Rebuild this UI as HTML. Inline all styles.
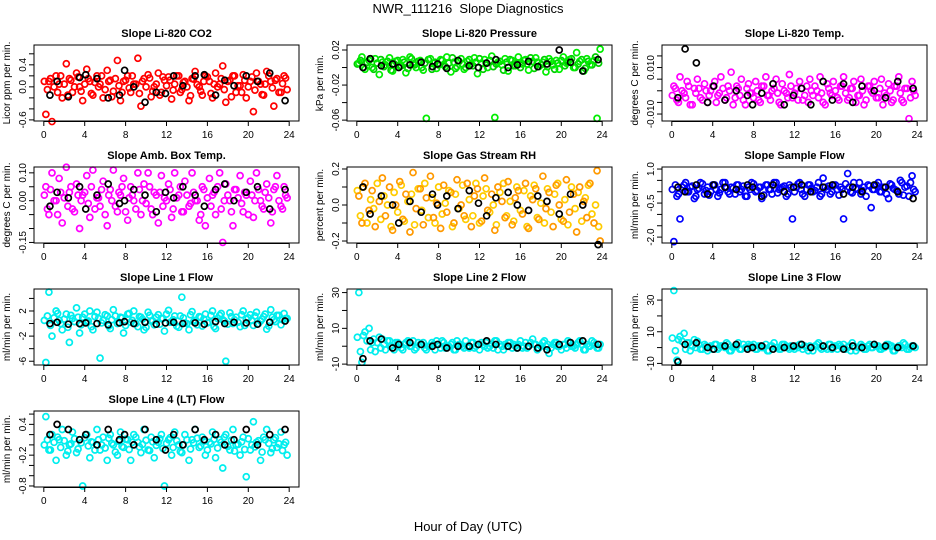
<!DOCTYPE html>
<html><head><meta charset="utf-8"><style>
html,body{margin:0;padding:0;background:#fff}
svg{display:block;font-family:"Liberation Sans",sans-serif}
</style></head><body>
<svg id="chart" width="936" height="540" viewBox="0 0 936 540">
<text x="468" y="13" text-anchor="middle" font-size="13">NWR_111216&#160; Slope Diagnostics</text>
<text x="468" y="531" text-anchor="middle" font-size="13">Hour of Day (UTC)</text>
</svg>
<script>
const hoursC=[0.2,0.5,0.8,1.2,1.5,1.8,2.2,2.5,2.8,3.2,3.5,3.8,4.2,4.5,4.8,5.2,5.5,5.8,6.2,6.5,6.8,7.2,7.5,7.8,8.2,8.5,8.8,9.2,9.5,9.8,10.2,10.5,10.8,11.2,11.5,11.8,12.2,12.5,12.8,13.2,13.5,13.8,14.2,14.5,14.8,15.2,15.5,15.8,16.2,16.5,16.8,17.2,17.5,17.8,18.2,18.5,18.8,19.2,19.5,19.8,20.2,20.5,20.8,21.2,21.5,21.8,22.2,22.5,22.8,23.2,23.5,23.8];
const hoursC2=[0.05,0.35,0.65,1.0,1.35,1.65,2.0,2.35,2.65,3.0,3.35,3.65,4.0,4.35,4.65,5.0,5.35,5.65,6.0,6.35,6.65,7.0,7.35,7.65,8.0,8.35,8.65,9.0,9.35,9.65,10.0,10.35,10.65,11.0,11.35,11.65,12.0,12.35,12.65,13.0,13.35,13.65,14.0,14.35,14.65,15.0,15.35,15.65,16.0,16.35,16.65,17.0,17.35,17.65,18.0,18.35,18.65,19.0,19.35,19.65,20.0,20.35,20.65,21.0,21.35,21.65,22.0,22.35,22.65,23.0,23.35,23.65];
const hoursK=[0.6,1.3,2.4,3.5,4.1,5.2,6.3,7.4,7.9,8.8,9.9,11.0,11.9,12.7,13.6,14.8,15.7,16.8,17.7,18.6,19.8,20.9,22.1,23.6];
const xTicks=[0,4,8,12,16,20,24];

const co2C=[-0.5,0.1,-0.63,0.2,0.05,-0.2,0.42,0.15,-0.1,0.25,0.0,-0.25,0.32,0.1,-0.15,0.2,0.05,-0.2,0.3,0.12,-0.08,0.48,-0.25,0.1,0.2,-0.1,0.05,0.52,-0.35,0.15,0.22,-0.18,0.0,0.25,-0.1,0.12,0.18,-0.22,0.05,0.2,-0.05,0.1,-0.25,0.15,0.28,0.0,-0.15,0.2,0.1,-0.2,0.25,0.05,0.38,-0.28,0.12,0.2,-0.1,0.02,0.22,-0.2,0.1,-0.45,0.25,0.05,-0.15,0.28,0.1,-0.35,0.15,-0.1,0.2,-0.05];
const co2B=[0.1,-0.05,0.15,0.0,-0.1,0.2,0.05,-0.15,0.12,0.0,0.18,-0.08,0.05,0.15,-0.12,0.08,0.0,0.2,-0.05,0.1,-0.18,0.15,0.02,-0.1,0.12,-0.02,0.2,0.05,-0.12,0.1,0.0,0.16,-0.08,0.05,-0.15,0.18,0.02,0.12,-0.06,0.2,-0.1,0.08,0.0,-0.16,0.14,0.04,-0.08,0.1,0.18,-0.12,0.05,0.0,0.15,-0.05,0.1,-0.18,0.2,0.02,-0.1,0.12,0.0,0.18,-0.06,0.1,-0.14,0.05,0.2,-0.02,0.12,-0.1,0.06,0.16];
const co2K=[-0.15,0.1,-0.18,0.17,0.22,0.15,-0.2,-0.15,0.3,0.0,-0.28,-0.1,-0.12,0.2,0.02,0.2,0.22,-0.15,0.12,0.02,0.2,0.1,0.25,-0.25];
const presC=[0.005,0.012,-0.002,0.008,0.0,0.01,-0.008,0.006,0.003,0.011,-0.004,0.007,0.002,0.009,-0.006,0.012,0.004,0.0,0.008,-0.003,-0.058,0.01,0.005,-0.001,0.009,0.003,0.012,-0.005,0.006,0.001,0.01,-0.002,0.007,0.004,0.011,-0.007,0.005,0.009,0.0,0.013,-0.057,0.006,0.003,0.01,-0.004,0.008,0.002,0.012,0.004,0.009,-0.003,0.007,0.011,0.001,0.006,-0.005,0.01,0.003,0.008,-0.002,0.012,0.005,0.009,0.0,0.017,0.007,-0.004,0.01,0.003,0.008,-0.058,0.021];
const presB=[0.004,0.008,0.0,0.006,0.01,-0.002,0.005,0.009,0.001,0.007,-0.003,0.004,0.008,0.002,0.006,-0.001,0.01,0.003,0.007,0.0,0.005,0.009,-0.002,0.006,0.003,0.008,0.001,0.005,0.011,-0.001,0.007,0.004,0.0,0.009,0.002,0.006,0.01,-0.002,0.005,0.008,0.001,0.004,0.007,-0.003,0.006,0.009,0.002,0.005,0.0,0.008,0.004,0.011,-0.001,0.006,0.003,0.009,0.001,0.007,-0.002,0.005,0.008,0.002,0.006,0.01,0.0,0.004,0.009,-0.001,0.007,0.003,0.012,0.005];
const presK=[0.0,0.01,0.002,0.004,0.0,0.003,0.006,0.001,0.004,-0.001,0.008,0.002,0.0,0.005,0.009,0.0,0.003,0.007,0.001,0.004,0.02,0.006,-0.004,0.009];
const tempC=[0.002,-0.004,0.006,-0.001,0.004,-0.006,0.001,0.005,-0.003,0.003,-0.005,0.0,0.004,-0.002,0.006,-0.004,0.002,0.008,-0.003,0.001,0.005,-0.006,0.003,-0.001,0.004,-0.004,0.002,0.006,-0.002,0.0,0.005,-0.005,0.003,-0.001,0.007,-0.003,0.001,0.004,-0.004,0.002,0.005,-0.002,0.0,0.006,-0.005,0.003,-0.001,0.004,-0.003,0.002,0.006,-0.004,0.001,0.004,-0.002,0.005,-0.006,0.002,0.0,0.004,-0.003,0.005,-0.001,0.003,-0.005,0.002,0.006,-0.004,0.001,-0.012,0.004,-0.002];
const tempB=[-0.002,0.001,-0.005,0.0,-0.003,0.002,-0.006,-0.001,0.001,-0.004,0.0,-0.002,0.002,-0.005,-0.001,0.001,-0.003,0.0,-0.006,0.002,-0.002,-0.004,0.001,-0.001,-0.003,0.0,-0.005,0.002,-0.002,-0.004,0.001,-0.001,-0.006,0.0,-0.003,0.002,-0.001,-0.004,0.001,-0.002,-0.005,0.0,0.002,-0.003,-0.001,-0.006,0.001,-0.002,0.0,-0.004,0.002,-0.001,-0.003,0.001,-0.005,-0.002,0.0,-0.004,0.002,-0.001,-0.003,0.001,-0.006,-0.002,0.0,-0.004,0.002,-0.001,-0.005,0.001,-0.003,0.0];
const tempK=[-0.003,0.018,0.012,-0.005,0.002,-0.004,0.0,-0.002,-0.006,-0.001,0.003,-0.006,-0.002,0.001,-0.006,0.004,-0.004,0.003,-0.005,0.002,0.0,-0.003,0.004,0.001];
const ambC=[0.05,-0.05,0.1,0.0,0.08,-0.08,0.12,0.03,-0.03,0.06,-0.1,0.02,0.09,-0.06,0.11,0.01,-0.02,0.07,-0.09,0.04,0.11,-0.04,0.02,0.08,-0.07,0.05,0.0,0.1,-0.05,0.06,0.1,-0.03,0.03,-0.08,0.09,0.01,0.06,-0.06,0.1,0.02,-0.04,0.07,-0.02,0.1,0.0,-0.07,0.05,-0.09,0.08,0.02,-0.05,0.1,-0.15,0.06,0.0,-0.09,0.04,0.09,-0.04,0.02,0.07,-0.06,0.1,0.0,-0.03,0.06,-0.08,0.04,0.09,-0.02,0.05,0.01];
const ambB=[0.02,-0.03,0.04,0.0,-0.05,0.03,0.01,-0.02,0.05,-0.04,0.02,0.0,0.03,-0.01,0.05,-0.03,0.01,0.04,-0.05,0.02,0.0,-0.02,0.03,0.05,-0.04,0.01,0.02,-0.03,0.04,0.0,-0.01,0.05,-0.05,0.02,0.03,-0.02,0.0,0.04,-0.03,0.01,0.05,-0.04,0.02,-0.01,0.03,0.0,-0.05,0.04,0.01,-0.02,0.03,0.05,-0.03,0.0,0.02,-0.04,0.04,0.01,-0.01,0.03,-0.05,0.02,0.0,0.04,-0.02,0.03,0.01,-0.04,0.05,0.0,-0.03,0.02];
const ambK=[-0.02,0.03,0.01,0.05,-0.03,0.02,0.06,-0.01,0.0,0.04,0.02,-0.04,0.03,0.01,0.05,0.02,-0.02,0.04,0.06,0.0,0.03,0.05,-0.03,0.04];
const rhC=[0.05,-0.1,0.12,-0.03,0.08,-0.12,0.02,0.15,-0.06,0.1,-0.14,0.0,0.13,-0.08,0.06,-0.15,0.18,-0.02,0.09,-0.11,0.04,0.16,-0.07,0.01,-0.13,0.11,-0.04,0.07,-0.1,0.14,0.0,-0.06,0.12,-0.12,0.05,0.09,-0.09,0.15,-0.03,0.06,-0.14,0.1,0.02,-0.07,0.13,-0.11,0.04,0.08,-0.05,0.12,-0.13,0.03,0.09,-0.08,0.16,-0.02,0.07,-0.12,0.11,0.0,-0.09,0.14,-0.04,0.06,-0.15,0.1,0.02,-0.07,0.12,-0.1,0.19,-0.2];
const rhB=[0.08,-0.06,0.1,-0.1,0.03,-0.02,0.12,-0.08,0.05,0.0,-0.12,0.07,-0.04,0.11,-0.09,0.02,0.06,-0.11,0.09,-0.03,0.12,-0.07,0.04,-0.1,0.1,-0.05,0.01,0.08,-0.12,0.06,-0.02,0.11,-0.08,0.03,-0.06,0.12,-0.1,0.05,0.09,-0.04,0.0,-0.11,0.07,0.12,-0.06,0.02,-0.09,0.1,-0.03,0.08,-0.12,0.05,0.11,-0.07,0.01,-0.1,0.09,-0.04,0.06,0.12,-0.08,0.03,-0.11,0.1,-0.02,0.07,-0.09,0.04,0.11,-0.05,0.0,-0.12];
const rhK=[0.1,-0.05,0.05,0.0,-0.1,0.02,-0.04,0.06,0.0,0.05,-0.02,0.08,0.01,-0.06,0.04,0.07,0.0,-0.03,0.05,0.02,-0.05,0.06,0.0,-0.22];
const sfC=[-2.2,-0.2,-1.2,0.3,0.0,0.2,-0.3,0.1,0.4,-0.1,0.2,0.0,0.3,-0.2,0.1,0.4,0.0,0.2,-0.1,0.3,0.1,-0.2,0.2,0.4,0.0,0.2,-0.3,0.3,0.1,-0.1,0.4,0.1,0.2,-0.2,0.3,-1.2,0.2,0.4,-0.1,0.1,0.3,0.0,0.2,-0.2,0.6,0.1,-0.1,0.3,0.1,0.2,-1.2,0.8,0.0,0.4,0.1,-0.1,0.2,0.3,-0.7,0.1,0.4,0.0,0.2,-0.3,0.3,0.1,-0.1,0.4,0.2,-0.2,0.7,0.0];
const sfB=[0.1,0.3,-0.1,0.2,0.4,0.0,0.25,-0.2,0.15,0.35,0.05,-0.15,0.3,0.1,-0.05,0.4,0.2,-0.1,0.15,0.3,0.0,0.25,-0.2,0.1,0.35,0.05,0.2,-0.15,0.3,0.1,0.4,-0.05,0.15,0.25,-0.1,0.2,0.0,0.35,0.1,-0.2,0.3,0.15,0.05,0.4,-0.1,0.2,0.25,0.0,0.3,-0.15,0.1,0.35,0.2,-0.05,0.15,0.4,0.05,-0.2,0.25,0.1,0.3,0.0,0.2,-0.1,0.35,0.15,0.05,0.5,-0.15,0.25,0.4,0.1];
const sfK=[0.2,0.0,0.3,-0.1,0.3,0.2,0.1,0.3,0.2,-0.2,0.3,0.0,0.2,0.3,0.0,0.2,0.3,-0.1,0.2,0.0,0.3,0.2,0.0,-0.3];
const l1C=[-6.2,5.0,-2,2,0.5,-1,1.5,-3,0.8,2.5,-1.5,1,0.3,2,-1,1.8,-5.5,0.5,1.2,-0.8,2.2,0,1,-1.5,1.5,0.2,2,-0.5,1,-1,1.8,0.4,-0.2,1.4,0.8,-1.2,2.1,0.3,1.2,-0.6,4.2,0.1,-1,1.9,0.5,1.1,-0.4,1.5,0.2,2,-0.8,1.3,0.6,-6,1.7,0.0,1.0,-0.5,2.0,0.7,1.4,-0.3,1.8,0.4,1.1,-0.9,2.2,0.6,1.3,-0.2,1.6,0.8];
const l1B=[0.5,1.2,-0.3,0.9,1.6,0.0,0.7,-0.6,1.3,0.3,1.0,-0.2,1.5,0.4,-0.5,1.1,0.8,0.1,1.4,-0.4,0.6,1.2,0.2,0.9,-0.3,1.6,0.5,0.0,1.1,0.7,-0.6,1.3,0.4,1.0,-0.1,0.8,1.5,0.2,0.6,-0.4,1.2,0.9,0.0,1.4,0.3,-0.2,1.0,0.7,0.1,1.3,-0.5,0.8,1.6,0.4,-0.1,1.1,0.6,0.2,1.4,-0.3,0.9,0.5,1.2,0.0,0.7,1.5,-0.4,1.0,0.3,1.3,0.6,0.8];
const l1K=[0,0.2,-0.1,0,0.1,0,-0.2,0.1,0.3,0,0.2,-0.1,0.1,0.2,0,0.1,-0.1,0.3,0,0.2,0.1,-0.1,0.2,0.4];
const l2C=[30,-9,8,10,2,-3,5,4,-2,3,-1,2,1,-2,2,0,3,-1,1,2,-2,0,1,3,-1,2,0,1,-2,3,1,-1,0,2,-1,1,2,0,-1,1,3,-2,0,1,2,-1,0,1,-1,2,0,4,1,-1,2,0,-4,1,2,0,1,-1,2,0,1,3,-2,1,0,2,-1,1];
const l2B=[5,-3,6,3,-2,4,2,-1,1,3,0,-2,2,-1,1,3,0,-2,2,1,-1,0,2,-2,1,3,-1,0,2,-2,1,0,3,-1,2,0,-2,1,2,0,-1,3,1,-2,0,2,1,-1,3,0,-1,2,1,-2,0,3,1,-1,2,0,-2,1,3,0,-1,2,1,-2,0,3,1,-1];
const l2K=[-7,3,4,-1,1,2,1,0,1,-1,0,0,1,3,1,0,-1,0,-1,-2,1,2,3,1];
const l3C=[36,-8,7,9,3,-2,5,4,-1,2,-2,1,2,-1,1,0,2,-2,1,3,-1,0,2,1,-1,1,0,2,-2,1,0,-1,2,1,-1,0,1,2,-1,0,1,-2,2,0,1,-1,2,0,-1,1,2,0,-2,1,0,2,-1,1,0,2,1,-1,0,2,1,-2,1,0,2,-1,1,0];
const l3B=[6,-2,5,4,-1,3,1,0,2,-1,1,0,-1,2,0,1,3,-2,0,1,-1,2,0,1,2,-1,1,0,-2,1,3,0,-1,2,0,1,-1,0,2,1,-2,0,1,3,-1,0,2,-1,1,2,0,-1,1,3,-2,0,1,-1,2,0,1,-1,0,2,1,-2,0,1,3,-1,0,1];
const l3K=[-9,2,3,0,-1,1,2,-1,0,1,-1,0,1,2,0,1,0,-1,1,0,2,1,0,1];
const l4C=[0.55,-0.1,0.2,-0.3,0.1,0.3,-0.2,0.0,0.25,-0.15,0.1,-0.8,0.2,-0.25,0.05,0.3,-0.1,0.15,-0.3,0.2,0.0,-0.2,0.25,-0.05,0.1,-0.3,0.2,0.05,-0.15,0.3,-0.1,0.15,-0.25,0.05,0.2,-0.8,0.1,-0.2,0.25,0.0,-0.15,0.2,-0.3,0.1,0.3,-0.05,0.15,-0.2,0.05,0.25,-0.25,0.1,-0.45,0.2,-0.1,0.3,0.0,-0.2,0.15,-0.62,-0.1,0.45,0.05,-0.3,0.15,0.3,-0.15,0.1,-0.05,0.25,0.0,-0.2];
const l4B=[0.0,0.1,-0.1,0.05,0.15,-0.05,0.08,-0.12,0.02,0.12,-0.08,0.04,0.14,-0.02,0.06,-0.1,0.1,0.0,-0.06,0.13,0.03,-0.14,0.07,-0.03,0.11,-0.09,0.05,0.15,-0.04,0.01,0.09,-0.11,0.06,-0.01,0.12,-0.07,0.03,0.14,-0.05,0.08,-0.13,0.0,0.1,-0.08,0.04,0.13,-0.02,0.07,-0.1,0.02,0.11,-0.06,0.05,0.15,-0.03,0.09,-0.12,0.01,0.06,-0.09,0.12,0.0,-0.04,0.08,-0.14,0.1,0.03,-0.07,0.14,0.02,-0.11,0.05];
const l4K=[0.2,0.4,0.3,0.1,0.2,0.0,0.3,0.1,0.2,0.0,0.3,0.1,-0.1,0.2,0.0,0.3,0.1,0.2,0.0,0.1,0.3,0.0,0.2,0.3];

const panels=[
 {name:'co2',title:'Slope Li-820 CO2',yl:'Licor ppm per min.',c:'#ff0000',c2:'#ff0000',col:0,row:0,d:[-0.62,0.76],t:[-0.6,-0.4,-0.2,0,0.2,0.4,0.6],lab:[[-0.6,'-0.6'],[0,'0.0'],[0.4,'0.4']],ys:co2C,yb:co2B,yk:co2K},
 {name:'pressure',title:'Slope Li-820 Pressure',yl:'kPa per min.',c:'#00ee00',c2:'#00cc00',col:1,row:0,d:[-0.061,0.0257],t:[-0.06,-0.04,-0.02,0,0.02],lab:[[-0.06,'-0.06'],[-0.02,'-0.02'],[0.02,'0.02']],ys:presC,yb:presB,yk:presK},
 {name:'temp',title:'Slope Li-820 Temp.',yl:'degrees C per min.',c:'#ff00ff',c2:'#ff00ff',col:2,row:0,d:[-0.013,0.0197],t:[-0.01,-0.005,0,0.005,0.01,0.015],lab:[[-0.01,'-0.010'],[0.01,'0.010']],ys:tempC,yb:tempB,yk:tempK},
 {name:'amb-box-temp',title:'Slope Amb. Box Temp.',yl:'degrees C per min.',c:'#ff00ff',c2:'#ff00ff',col:0,row:1,d:[-0.152,0.121],t:[-0.15,-0.1,-0.05,0,0.05,0.1],lab:[[-0.15,'-0.15'],[0,'0.00'],[0.1,'0.10']],ys:ambC,yb:ambB,yk:ambK},
 {name:'gas-stream-rh',title:'Slope Gas Stream RH',yl:'percent per min.',c:'#ff9900',c2:'#ffcc00',col:1,row:1,d:[-0.211,0.211],t:[-0.2,-0.1,0,0.1,0.2],lab:[[-0.2,'-0.2'],[0,'0.0'],[0.2,'0.2']],ys:rhC,yb:rhB,yk:rhK},
 {name:'sample-flow',title:'Slope Sample Flow',yl:'ml/min per min.',c:'#0000ff',c2:'#0000ee',col:2,row:1,d:[-2.26,1.09],t:[-2,-1.5,-1,-0.5,0,0.5,1],lab:[[-2,'-2.0'],[-0.5,'-0.5'],[1,'1.0']],ys:sfC,yb:sfB,yk:sfK},
 {name:'line1-flow',title:'Slope Line 1 Flow',yl:'ml/min per min.',c:'#00eeee',c2:'#00eeee',col:0,row:2,d:[-6.6,5.5],t:[-6,-4,-2,0,2,4],lab:[[-6,'-6'],[-2,'-2'],[2,'2']],ys:l1C,yb:l1B,yk:l1K},
 {name:'line2-flow',title:'Slope Line 2 Flow',yl:'ml/min per min.',c:'#00eeee',c2:'#00eeee',col:1,row:2,d:[-10.5,32],t:[-10,0,10,20,30],lab:[[-10,'-10'],[10,'10'],[30,'30']],ys:l2C,yb:l2B,yk:l2K},
 {name:'line3-flow',title:'Slope Line 3 Flow',yl:'ml/min per min.',c:'#00eeee',c2:'#00eeee',col:2,row:2,d:[-11,37],t:[-10,0,10,20,30],lab:[[-10,'-10'],[10,'10'],[30,'30']],ys:l3C,yb:l3B,yk:l3K},
 {name:'line4-flow',title:'Slope Line 4 (LT) Flow',yl:'ml/min per min.',c:'#00eeee',c2:'#00eeee',col:0,row:3,d:[-0.82,0.66],t:[-0.8,-0.6,-0.4,-0.2,0,0.2,0.4,0.6],lab:[[-0.8,'-0.8'],[-0.2,'-0.2'],[0.4,'0.4']],ys:l4C,yb:l4B,yk:l4K}
];
const NS='http://www.w3.org/2000/svg';
const svg=document.getElementById('chart');
const colLeft=[34,347,662],rowTop=[45,167,289,411],W=265,H=76;
function mk(tag,attrs,parent){const e=document.createElementNS(NS,tag);for(const k in attrs)e.setAttribute(k,attrs[k]);parent.appendChild(e);return e;}
panels.forEach(p=>{
 const L=colLeft[p.col],T=rowTop[p.row];
 const g=mk('g',{},svg);
 
 
 const xs=h=>L+(h+0.96)/25.92*W;
 const ys=v=>T+H-(v-p.d[0])/(p.d[1]-p.d[0])*H;
 const ti=mk('text',{x:L+W/2,y:T-8,'text-anchor':'middle','font-size':'11','font-weight':'bold'},g);ti.textContent=p.title;
 
 
 const yl=mk('text',{x:0,y:0,transform:`translate(${L-24},${T+H/2}) rotate(-90)`,'text-anchor':'middle','font-size':'10'},g);yl.textContent=p.yl;
 
 
 const pts=mk('g',{fill:'none','stroke-width':'1.7'},g);
 
 
 p.yb.forEach((v,i)=>{if(hoursC2[i]===undefined)return;const c=mk('circle',{cx:xs(hoursC2[i]),cy:ys(v),r:3,stroke:p.c2},pts);
  
  });
 p.ys.forEach((v,i)=>{if(hoursC[i]===undefined)return;const c=mk('circle',{cx:xs(hoursC[i]),cy:ys(v),r:3,stroke:p.c},pts);
  
  });
 p.yk.forEach((v,i)=>{if(hoursK[i]===undefined)return;const c=mk('circle',{cx:xs(hoursK[i]),cy:ys(v),r:3,stroke:'#000'},pts);
  
  });
 const box=mk('rect',{x:L,y:T,width:W,height:H,fill:'none',stroke:'#000','stroke-width':'1'},g);
 
 
 const xa=mk('g',{},g);
 
 
 mk('line',{x1:xs(0),x2:xs(24),y1:T+H+0.5,y2:T+H+0.5,stroke:'#000'},xa);
 xTicks.forEach(t=>{mk('line',{x1:xs(t),x2:xs(t),y1:T+H,y2:T+H+5,stroke:'#000'},xa);
  const tx=mk('text',{x:xs(t),y:T+H+17,'text-anchor':'middle','font-size':'10'},xa);tx.textContent=t;
  
  });
 const ya=mk('g',{},g);
 
 
 p.t.forEach(t=>mk('line',{x1:L-5,x2:L,y1:ys(t),y2:ys(t),stroke:'#000'},ya));
 p.lab.forEach(([v,s])=>{const tx=mk('text',{x:0,y:0,transform:`translate(${L-8},${ys(v)}) rotate(-90)`,'text-anchor':'middle','font-size':'10'},ya);tx.textContent=s;
  
  });
});
</script>
</body></html>
